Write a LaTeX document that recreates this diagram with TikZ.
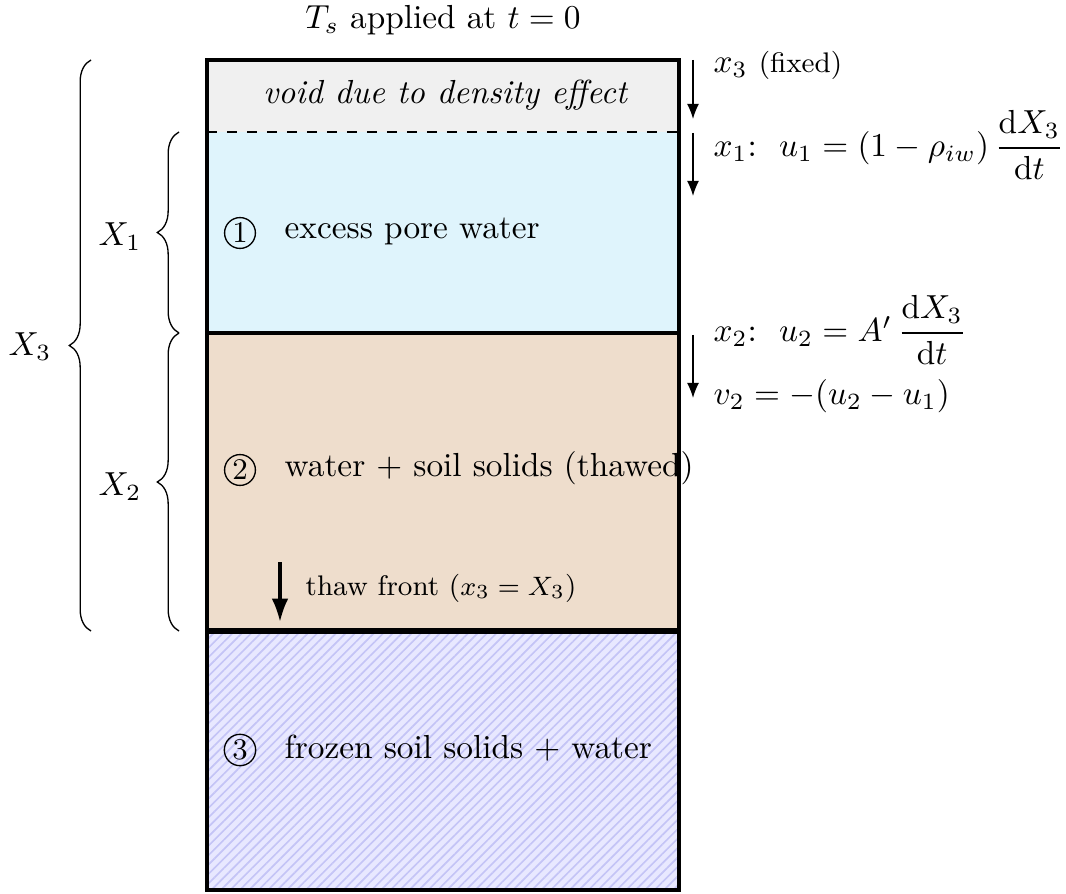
\documentclass[tikz,border=0pt]{standalone}
\usepackage{amsmath}
\usetikzlibrary{arrows.meta, positioning, decorations.pathreplacing, patterns.meta}
\definecolor{voidGray}{HTML}{F0F0F0}
\definecolor{waterBlue}{HTML}{DFF4FC}
\definecolor{thawBrown}{HTML}{EEDDCC}
\definecolor{frozenBlue}{HTML}{E8E8FF}
\definecolor{hatchBlue}{HTML}{C4C4F6}

\begin{document}
\begin{tikzpicture}[
  x=0.3pt, y=-0.3pt,
  layer/.style={draw=black, line width=1pt},
  zonetext/.style={anchor=west, inner sep=0pt},
  eqtext/.style={anchor=west, inner sep=0pt},
  smalltext/.style={font=\fontsize{8.5}{10}\selectfont},
  num/.style={circle, draw, inner sep=0.6pt, font=\small},
  arrow/.style={-{Latex[length=4.5pt, width=3.6pt]}, line width=0.45pt},
  frontarrow/.style={-{Latex[length=7pt, width=5pt]}, line width=1pt},
  brace/.style={decorate, decoration={brace, amplitude=6.5pt}, line width=0.4pt},
]
\useasboundingbox (0,0) rectangle (1066,894);

% Layers
\fill[voidGray] (207,60) rectangle (679,132);
\fill[waterBlue] (207,132) rectangle (679,333);
\fill[thawBrown] (207,333) rectangle (679,631);
\fill[frozenBlue] (207,631) rectangle (679,890);
\fill[pattern={Lines[angle=45, distance=2pt, line width=0.5pt]}, pattern color=hatchBlue] (207,631) rectangle (679,890);
\draw[dashed, line width=0.4pt] (207,132) -- (679,132);
\draw[layer] (207,333) -- (679,333);
\draw[layer] (207,60) rectangle (679,890);
\draw[line width=1.6pt] (207,631) -- (679,631);

% Title
\node (title) at (443,20) {$T_s$ applied at $t=0$};

% Zone texts
\node (void) at (445,95) {\itshape void due to density effect};
\node[num] (n1) at (240,233) {1};
\node[zonetext] (excess) at (284,231) {excess pore water};
\node[num] (n2) at (240,470) {2};
\node[zonetext] (thawed) at (284,468) {water + soil solids (thawed)};
\node[num] (n3) at (240,750) {3};
\node[zonetext] (frozen) at (284,748) {frozen soil solids + water};

% Thaw front
\coordinate (front top) at (280,562);
\coordinate (front end) at (280,622);
\draw[frontarrow] (front top) -- (front end);
\node[zonetext, smalltext] (front) at (305,588) {thaw front ($x_3 = X_3$)};

% Right side coordinates
\coordinate (a3 top) at (693,60);
\coordinate (a3 end) at (693,119);
\coordinate (a1 top) at (693,133);
\coordinate (a1 end) at (693,196);
\coordinate (a2 top) at (693,335);
\coordinate (a2 end) at (693,398);
\draw[arrow] (a3 top) -- (a3 end);
\draw[arrow] (a1 top) -- (a1 end);
\draw[arrow] (a2 top) -- (a2 end);

\node[eqtext] (x3) at (713,65) {$x_3$~{\fontsize{8.5}{10}\selectfont (fixed)}};
\node[eqtext] (x1) at (713,145) {$x_1{:}\ \ u_1 = (1-\rho_{iw})\,\dfrac{\mathrm{d}X_3}{\mathrm{d}t}$};
\node[eqtext] (x2) at (713,330) {$x_2{:}\ \ u_2 = A'\,\dfrac{\mathrm{d}X_3}{\mathrm{d}t}$};
\node[eqtext] (v2) at (713,396) {$v_2 = -(u_2 - u_1)$};

% Braces
\coordinate (b3 bottom) at (91,631);
\coordinate (b3 top) at (91,60);
\coordinate (b1 bottom) at (179,333);
\coordinate (b1 top) at (179,132);
\coordinate (b2 bottom) at (179,631);
\coordinate (b2 top) at (179,333);
\draw[brace] (b3 bottom) -- (b3 top);
\draw[brace] (b1 bottom) -- (b1 top);
\draw[brace] (b2 bottom) -- (b2 top);
\node (X3) at (30,347) {$X_3$};
\node (X1) at (120,237) {$X_1$};
\node (X2) at (120,487) {$X_2$};

\end{tikzpicture}
\end{document}
